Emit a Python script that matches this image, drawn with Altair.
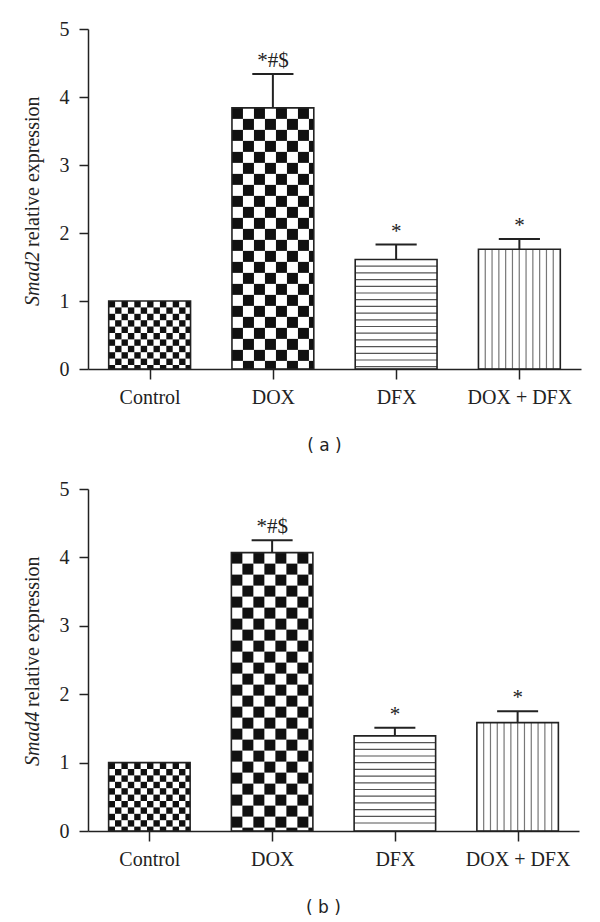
import altair as alt
import pandas as pd
import numpy as np

# ---- data ----
categories = ["Control", "DOX", "DFX", "DOX + DFX"]
smad2_mean = [1.00, 3.84, 1.61, 1.76]
smad2_err = [0.0, 0.50, 0.22, 0.15]
smad4_mean = [1.00, 4.07, 1.39, 1.585]
smad4_err = [0.0, 0.18, 0.12, 0.165]
annotations = ["", "*#$", "*", "*"]
patterns = ["check_small", "check_large", "hlines", "vlines"]
y_ticks = [0, 1, 2, 3, 4, 5]

# ---- layout / style ----
XMIN, XMAX = -0.5, 3.5
YMAX = 5
HALF = 0.332
CAP = 0.167
SERIF = "Liberation Serif"
INK = "#222222"

label_expr = "[" + ",".join("'%s'" % c for c in categories) + "][datum.value]"


def xenc(field):
    return alt.X(field, type="quantitative",
                 scale=alt.Scale(domain=[XMIN, XMAX], nice=False, zero=False),
                 axis=alt.Axis(values=[0, 1, 2, 3], labelExpr=label_expr, grid=False,
                               tickSize=10, tickWidth=1.5, domainWidth=1.5,
                               domainColor=INK, tickColor=INK, labelColor=INK,
                               labelFont=SERIF, labelFontSize=20, labelPadding=8),
                 title=None)


def yenc(field):
    return alt.Y(field, type="quantitative",
                 scale=alt.Scale(domain=[0, YMAX], nice=False),
                 axis=alt.Axis(values=y_ticks, format="d", grid=False,
                               tickSize=9, tickWidth=1.5, domainWidth=1.5,
                               domainColor=INK, tickColor=INK, labelColor=INK,
                               labelFont=SERIF, labelFontSize=20, labelPadding=10),
                 title=None)


def panel(means, errs, gene, caption, W, H, title_x):
    px_x = W / (XMAX - XMIN)
    px_y = H / YMAX
    bars = pd.DataFrame({"idx": list(range(len(categories))), "cat": categories,
                         "mean": means, "err": errs, "ann": annotations})
    bars["x1"] = bars["idx"] - HALF
    bars["x2"] = bars["idx"] + HALF
    bars["top"] = bars["mean"] + bars["err"]
    bars["c1"] = bars["idx"] - CAP
    bars["c2"] = bars["idx"] + CAP
    bars["zero"] = 0.0

    cells, hl, vl = [], [], []
    for i, (v, p) in enumerate(zip(means, patterns)):
        if p.startswith("check"):
            s = 6.4 if p == "check_small" else 11.0
            cw, ch = s / px_x, s / px_y
            ncol = int(np.ceil(2 * HALF / cw - 1e-9))
            nrow = int(np.ceil(v / ch - 1e-9))
            for r in range(nrow):
                ytop = v - r * ch
                ybot = max(0.0, ytop - ch)
                for c in range(ncol):
                    if (r + c) % 2 == 0:
                        xa = i - HALF + c * cw
                        xb = min(i + HALF, xa + cw)
                        cells.append(dict(cx=xa, cx2=xb, cy=ybot, cy2=ytop))
        elif p == "hlines":
            sp = 6.7 / px_y
            k = 1
            while v - k * sp > 0.02:
                hl.append(dict(hx=i - HALF, hx2=i + HALF, hy=v - k * sp))
                k += 1
        elif p == "vlines":
            sp = 6.8 / px_x
            k = 1
            while i - HALF + k * sp < i + HALF - 0.02:
                vl.append(dict(vx=i - HALF + k * sp, vy=0.0, vy2=v))
                k += 1

    base = alt.Chart(bars)
    checker = alt.Chart(pd.DataFrame(cells)).mark_rect(color="#111111", strokeWidth=0).encode(
        x=xenc("cx"), x2="cx2", y=yenc("cy"), y2="cy2")
    hlines = alt.Chart(pd.DataFrame(hl)).mark_rule(color="#555555", strokeWidth=1.2).encode(
        x=xenc("hx"), x2="hx2", y=yenc("hy"))
    vlines = alt.Chart(pd.DataFrame(vl)).mark_rule(color="#777777", strokeWidth=1.2).encode(
        x=xenc("vx"), y=yenc("vy"), y2="vy2")
    outline = base.mark_rect(fillOpacity=0, stroke=INK, strokeWidth=1.6).encode(
        x=xenc("x1"), x2="x2", y=yenc("zero"), y2="mean")
    ebase = base.transform_filter("datum.err > 0")
    evert = ebase.mark_rule(color=INK, strokeWidth=2).encode(
        x=xenc("idx"), y=yenc("mean"), y2="top")
    ecap = ebase.mark_rule(color=INK, strokeWidth=2).encode(
        x=xenc("c1"), x2="c2", y=yenc("top"))
    ann = ebase.mark_text(font=SERIF, fontSize=21, color=INK, baseline="alphabetic", dy=-7).encode(
        x=xenc("idx"), y=yenc("top"), text="ann:N")

    tdf = pd.DataFrame({"t": [gene]})
    t_it = alt.Chart(tdf).mark_text(font=SERIF, fontSize=20, fontStyle="italic", color=INK,
                                   angle=270, align="left", baseline="middle").encode(
        x=alt.value(title_x), y=alt.value(277), text="t:N")
    t_rest = alt.Chart(tdf).mark_text(font=SERIF, fontSize=20, color=INK,
                                     angle=270, align="left", baseline="middle").encode(
        x=alt.value(title_x), y=alt.value(218), text=alt.value("relative expression"))

    return alt.layer(checker, hlines, vlines, outline, evert, ecap, ann, t_it, t_rest).properties(
        width=W, height=H,
        title=alt.TitleParams(caption, orient="bottom", anchor="middle", font="DejaVu Sans",
                              fontSize=17, fontWeight="normal", color=INK, offset=31, dx=-10))


top = panel(smad2_mean, smad2_err, "Smad2", "( a )", 493, 340, -55)
bottom = panel(smad4_mean, smad4_err, "Smad4", "( b )", 491, 342, -55)

chart = alt.vconcat(top, bottom, spacing=25).properties(
    padding={"top": 11, "left": 14, "right": 5, "bottom": 5}
).configure_view(stroke=None)

chart.save("out.html", embed_options={"renderer": "svg", "actions": False})
